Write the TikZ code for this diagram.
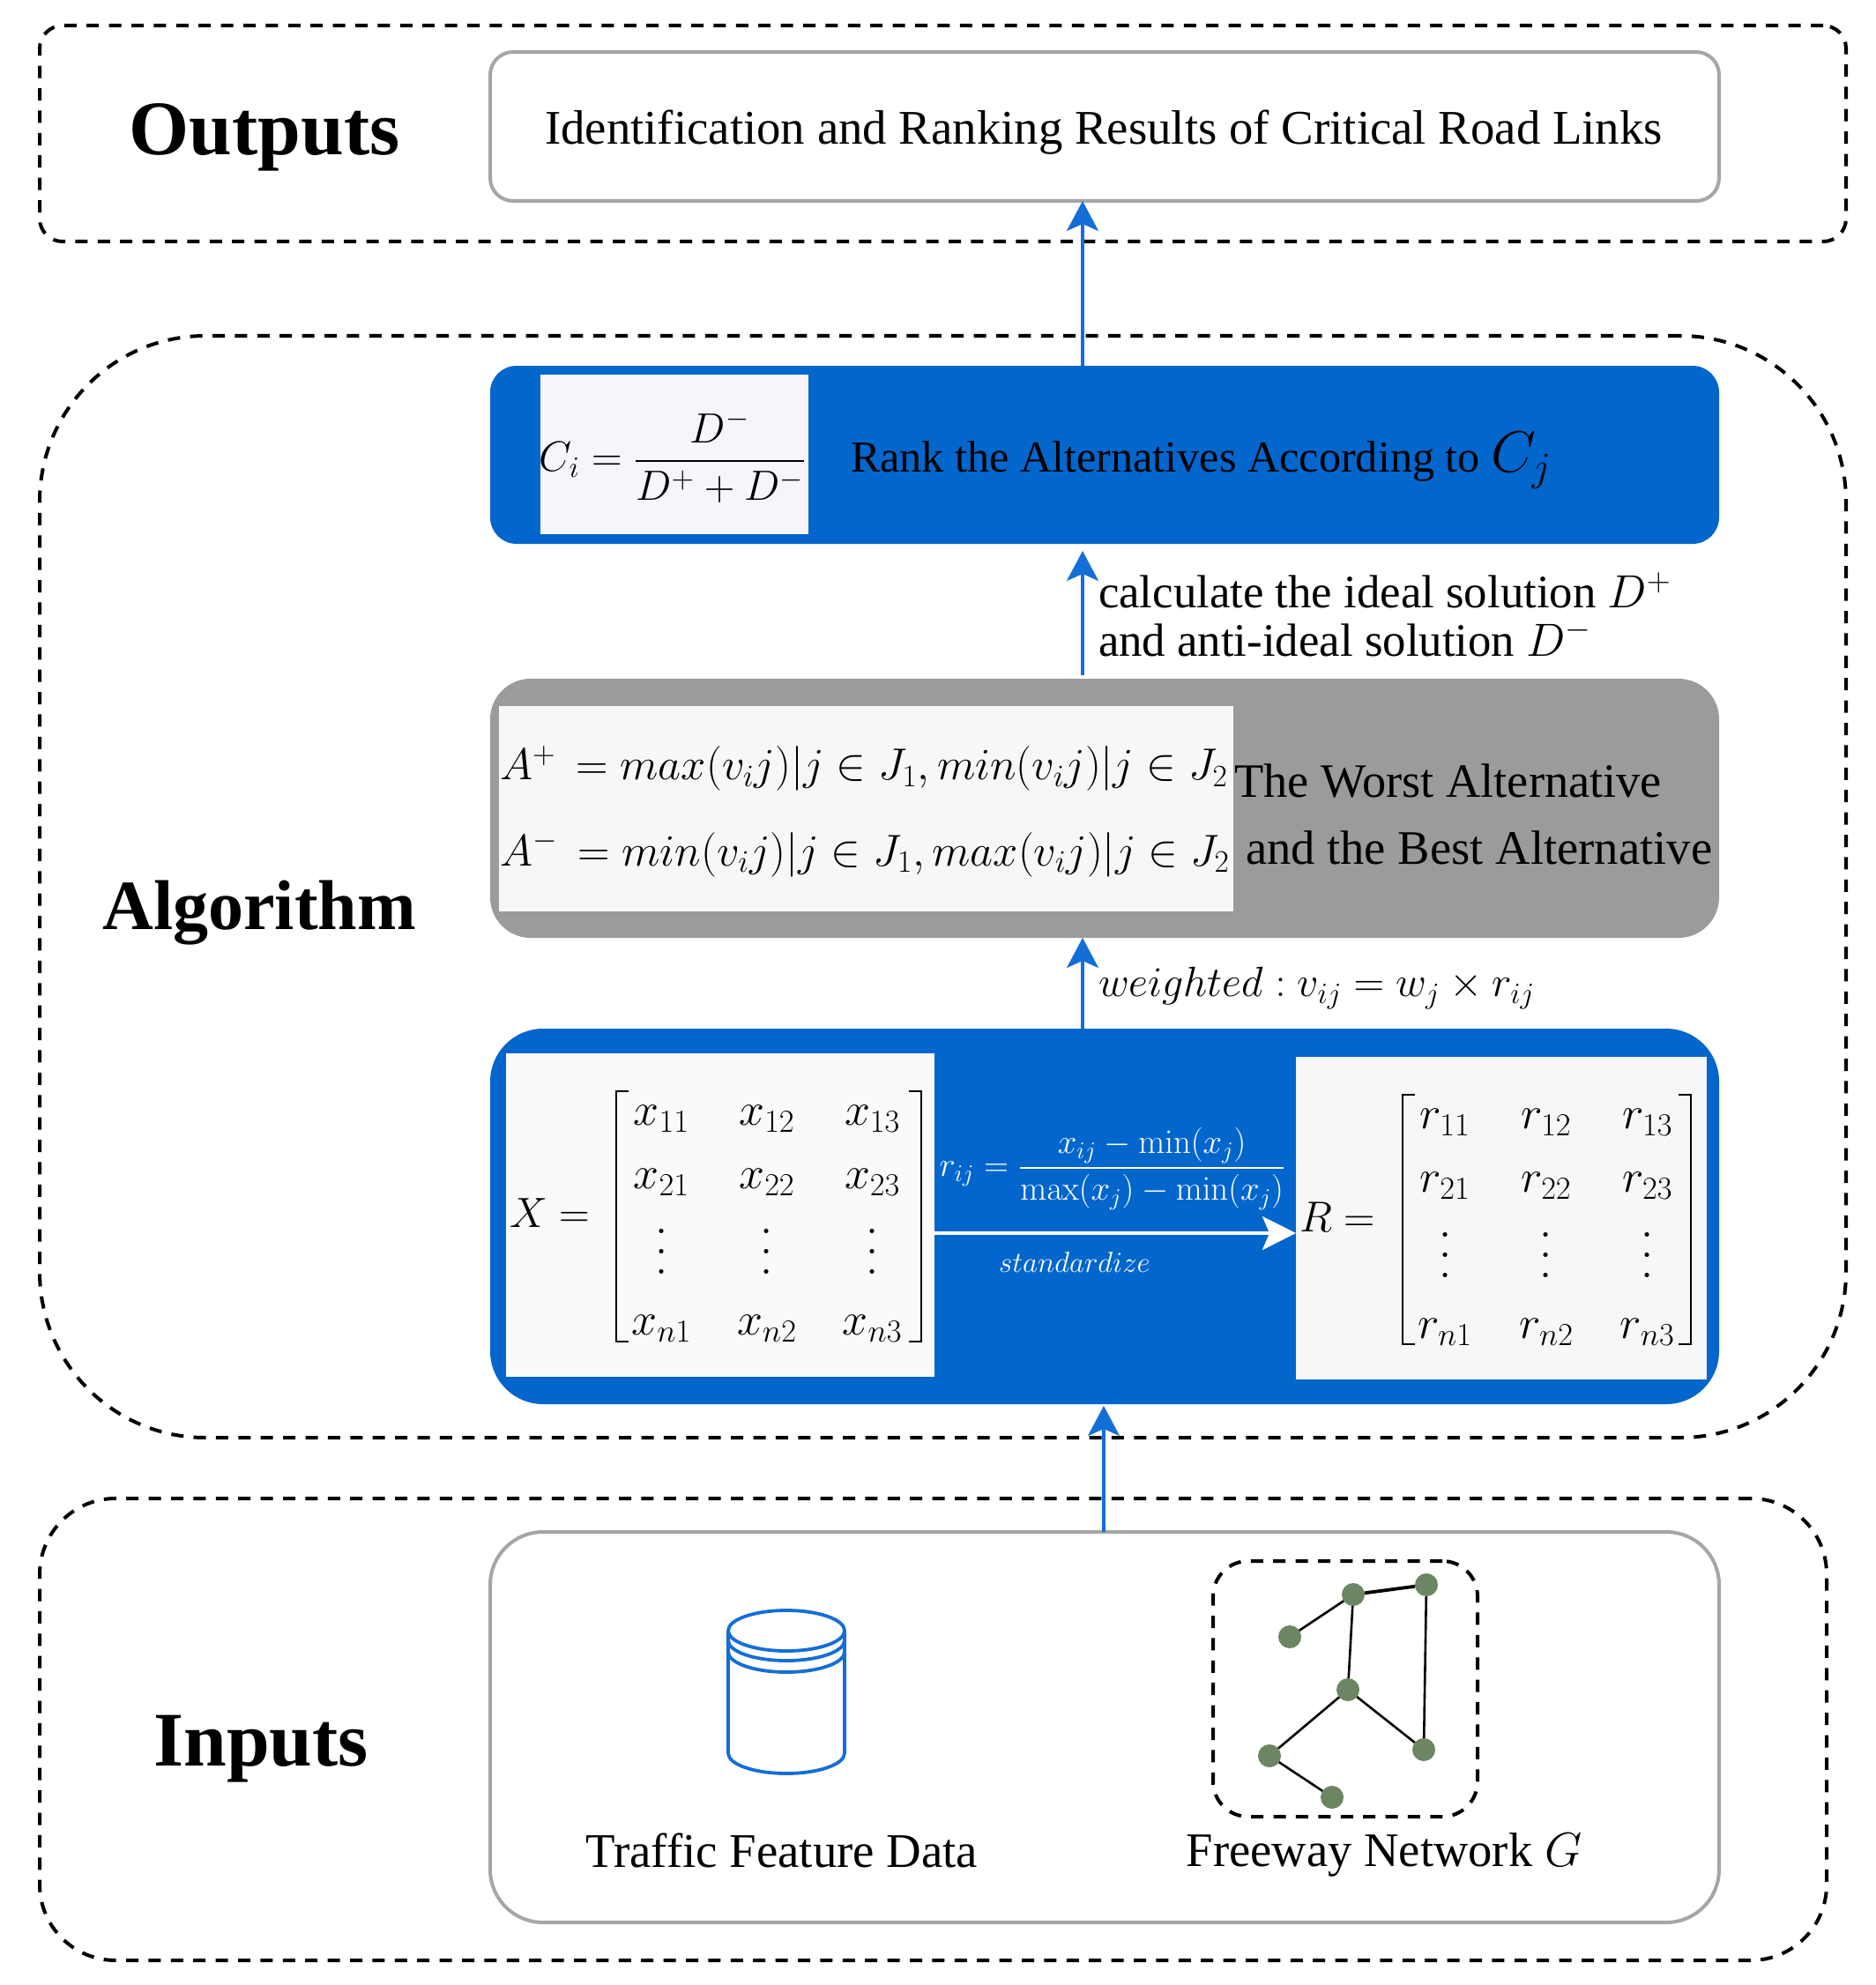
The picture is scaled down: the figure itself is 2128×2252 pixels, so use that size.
\documentclass[tikz,border=0pt]{standalone}
\usepackage{fix-cm}
\usepackage{amsmath}
\usepackage[no-math]{fontspec}
\setmainfont{Liberation Serif}
\usetikzlibrary{arrows.meta,positioning}
\definecolor{rankblue}{RGB}{3,102,204}
\definecolor{linkblue}{RGB}{20,110,215}
\definecolor{panelgray}{RGB}{155,155,155}
\definecolor{rimgray}{RGB}{166,166,166}
\definecolor{paper}{RGB}{247,247,249}
\definecolor{paperlav}{RGB}{247,245,250}
\definecolor{paperwhite}{RGB}{250,250,250}
\definecolor{netgreen}{RGB}{108,133,98}
\newcommand{\fsz}[1]{\fontsize{#1}{\dimexpr#1pt*6/5\relax}\selectfont}
\newcommand{\tdots}{\smash{\raisebox{-7.9pt}{\vbox{\baselineskip=11.5pt\lineskiplimit=0pt\hbox{$.$}\hbox{$.$}\hbox{$.$}}}}}
\tikzset{
  x=0.5pt,y=-0.5pt,
  every node/.style={inner sep=0pt,outer sep=0pt},
  groupbox/.style={draw=black,line width=2pt,dash pattern=on 7pt off 5.7pt,rectangle},
  rimbox/.style={draw=rimgray,line width=2pt,fill=white,rectangle},
  bluebox/.style={fill=rankblue,rectangle},
  graybox/.style={fill=panelgray,rectangle},
  sheet/.style={fill=paper,rectangle},
  heading/.style={font=\bfseries\fsz{43.8}},
  link/.style={draw=linkblue,line width=1.6pt,-{Stealth[length=17pt,width=18pt,inset=4pt]}},
  whitelink/.style={draw=white,line width=1.6pt,-{Stealth[length=19pt,width=19pt,inset=4pt]}},
  city/.style={circle,fill=netgreen,minimum size=13pt},
  road/.style={draw=black,line width=1.3pt},
  can/.style={draw=linkblue,line width=1.9pt},
  brack/.style={draw=black,line width=1.4pt},
}
\begin{document}
\begin{tikzpicture}
\useasboundingbox (0,0) rectangle (2128,2252);
% group frames
\node[groupbox,rounded corners=13pt,minimum width=1024.5pt,minimum height=122.5pt] (gout) at (1069.5,151.5) {};
\node[groupbox,rounded corners=94pt,minimum width=1024.5pt,minimum height=625pt] (galg) at (1069.5,1006) {};
\node[groupbox,rounded corners=43pt,minimum width=1013.5pt,minimum height=262pt] (gin) at (1058.5,1962) {};
% headings
\node[heading] (hout) at (300,156) {Outputs};
\node[heading,font=\bfseries\fsz{40}] (halg) at (294,1036) {Algorithm};
\node[heading] (hin) at (296,1984) {Inputs};
% main boxes
\node[rimbox,rounded corners=13pt,minimum width=697pt,minimum height=84.5pt] (res) at (1253,143.5) {};
\node[bluebox,rounded corners=15pt,minimum width=697pt,minimum height=101pt] (rank) at (1253,516) {};
\node[graybox,rounded corners=23pt,minimum width=697pt,minimum height=147pt] (ideal) at (1253,917) {};
\node[bluebox,rounded corners=30pt,minimum width=697pt,minimum height=213pt] (norm) at (1253,1380) {};
\node[rimbox,rounded corners=30pt,minimum width=697pt,minimum height=221.5pt] (data) at (1253,1959.5) {};
% sheets
\node[sheet,fill=paperlav,minimum width=152pt,minimum height=90.5pt] (srank) at (765,515.5) {};
\node[sheet,minimum width=416.5pt,minimum height=116.5pt] (sideal) at (982.5,917.5) {};
\node[sheet,fill=paperwhite,minimum width=243pt,minimum height=183.5pt] (sx) at (817,1378.5) {};
\node[sheet,minimum width=233pt,minimum height=183pt] (sr) at (1703,1382) {};
% output text
\node[font=\fsz{27.4}] (restext) at (1252,150) {Identification and Ranking Results of Critical Road Links};
% rank
\node[font=\fsz{24}] (fc) at (763,518) {$C_i=\dfrac{D^-}{D^+ + D^-}$};
\node[font=\fsz{25.1},anchor=west] (ranktext) at (965,522) {Rank the Alternatives According to {\fsz{33}$C_j$}};
% arrow label
\node[font=\fsz{26.4},anchor=west] (calc1) at (1246,670) {calculate the ideal solution $D^+$};
\node[font=\fsz{26.4},anchor=west] (calc2) at (1246,724) {and anti-ideal solution $D^-$};
% ideal
\node[font=\fsz{25.3},anchor=west] (aplus) at (567,872) {$A^{+}\,=max(v_ij)|j\in J_1,min(v_ij)|j\in J_2$};
\node[font=\fsz{25.3},anchor=west] (aminus) at (567,969) {$A^{-}\,=min(v_ij)|j\in J_1,max(v_ij)|j\in J_2$};
\node[font=\fsz{27.2},anchor=west] (worst) at (1400,886) {The Worst Alternative};
\node[font=\fsz{27.3},anchor=west] (best) at (1413,962) {and the Best Alternative};
% weighted
\node[font=\fsz{24},anchor=west] (weight) at (1246,1121) {$weighted:v_{ij}=w_j\times r_{ij}$};
% matrices
\node[font=\fsz{24},anchor=west] (xlab) at (578,1376) {$X=$};
\node[font=\fsz{26}] (xmat) at (870,1387) {\setlength{\arraycolsep}{12.95pt}\renewcommand{\arraystretch}{0.7}$\begin{matrix}x_{11}&x_{12}&x_{13}\\[14pt]x_{21}&x_{22}&x_{23}\\[19pt]\tdots&\tdots&\tdots\\[20.4pt]x_{n1}&x_{n2}&x_{n3}\end{matrix}$};
\draw[brack] (713,1238) -- (699,1238) -- (699,1522) -- (713,1522);
\draw[brack] (1031,1238) -- (1045,1238) -- (1045,1522) -- (1031,1522);
\node[font=\fsz{24.5},anchor=west] (rlab) at (1474,1381) {$R=$};
\node[font=\fsz{26}] (rmat) at (1754,1391) {\setlength{\arraycolsep}{13.25pt}\renewcommand{\arraystretch}{0.7}$\begin{matrix}r_{11}&r_{12}&r_{13}\\[14pt]r_{21}&r_{22}&r_{23}\\[19pt]\tdots&\tdots&\tdots\\[20.4pt]r_{n1}&r_{n2}&r_{n3}\end{matrix}$};
\draw[brack] (1605,1242) -- (1591,1242) -- (1591,1525) -- (1605,1525);
\draw[brack] (1904,1242) -- (1918,1242) -- (1918,1525) -- (1904,1525);
\node[font=\fsz{19.4},text=white] (stdf) at (1262,1326) {$r_{ij}=\dfrac{x_{ij}-\min(x_j)}{\max(x_j)-\min(x_j)}$};
\node[font=\fsz{16.5},text=white] (stdl) at (1219,1432) {$standardize$};
% inputs
\draw[can] (826,1850) -- (826,1989) arc[start angle=180,end angle=360,x radius=33pt,y radius=11.5pt] -- (958,1850);
\draw[can] (892,1850) ellipse[x radius=33pt,y radius=11.5pt];
\draw[can] (826,1861) arc[start angle=180,end angle=360,x radius=33pt,y radius=11.5pt];
\draw[can] (826,1874) arc[start angle=180,end angle=360,x radius=33pt,y radius=11.5pt];
\node[font=\fsz{27.4}] (tfd) at (887,2099) {Traffic Feature Data};
\node[font=\fsz{27.3}] (fng) at (1570,2104) {Freeway Network $G$};
% network
\node[groupbox,rounded corners=20pt,minimum width=150pt,minimum height=145pt] (netbox) at (1526,1916) {};
\node[city] (na) at (1535,1809) {};
\node[city] (nb) at (1618,1798) {};
\node[city] (nc) at (1463,1857) {};
\node[city] (nd) at (1529,1917) {};
\node[city] (ne) at (1440,1992) {};
\node[city] (nf) at (1615,1985) {};
\node[city] (ng) at (1511,2039) {};
\draw[road,line width=1.9pt] (na) -- (nb);
\draw[road] (na) -- (nc);
\draw[road] (na) -- (nd);
\draw[road] (nb) -- (nf);
\draw[road] (nd) -- (ne);
\draw[road] (nd) -- (nf);
\draw[road] (ne) -- (ng);
% connectors
\coordinate (lane) at (1228,0);
\coordinate (ilane) at (1252,0);
\draw[link] (rank.north -| lane) -- (res.south -| lane);
\draw[link] ([yshift=2pt]ideal.north -| lane) -- ([yshift=-4pt]rank.south -| lane);
\draw[link] (norm.north -| lane) -- (ideal.south -| lane);
\draw[link] (data.north -| ilane) -- ([yshift=-1pt]norm.south -| ilane);
\coordinate (wy) at (0,1399);
\draw[whitelink] (sx.east |- wy) -- (sr.west |- wy);
\end{tikzpicture}
\end{document}
